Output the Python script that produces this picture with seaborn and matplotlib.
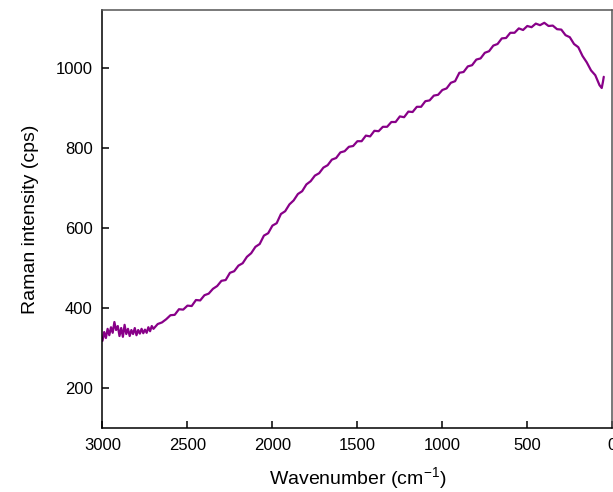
import numpy as np
import pandas as pd
import matplotlib
matplotlib.use("Agg")
import matplotlib.pyplot as plt
import seaborn as sns

wavenumber = [3000, 2990, 2980, 2970, 2960, 2950, 2940, 2930, 2920, 2910,
              2900, 2890, 2880, 2870, 2860, 2850, 2840, 2830, 2820, 2810,
              2800, 2790, 2780, 2770, 2760, 2750, 2740, 2730, 2720, 2710,
              2700, 2675, 2650, 2625, 2600, 2575, 2550, 2525, 2500, 2475,
              2450, 2425, 2400, 2375, 2350, 2325, 2300, 2275, 2250, 2225,
              2200, 2175, 2150, 2125, 2100, 2075, 2050, 2025, 2000, 1975,
              1950, 1925, 1900, 1875, 1850, 1825, 1800, 1775, 1750, 1725,
              1700, 1675, 1650, 1625, 1600, 1575, 1550, 1525, 1500, 1475,
              1450, 1425, 1400, 1375, 1350, 1325, 1300, 1275, 1250, 1225,
              1200, 1175, 1150, 1125, 1100, 1075, 1050, 1025, 1000, 975,
              950, 925, 900, 875, 850, 825, 800, 775, 750, 725,
              700, 675, 650, 625, 600, 575, 550, 525, 500, 475,
              450, 425, 400, 375, 350, 325, 300, 275, 250, 225,
              200, 175, 150, 125, 100, 75, 62, 55, 50]

intensity = [318, 340, 325, 348, 332, 352, 338, 365, 345, 355,
             330, 350, 328, 358, 335, 348, 330, 345, 335, 350,
             332, 345, 336, 348, 337, 346, 338, 352, 342, 355,
             348, 360, 364, 372, 382, 383, 397, 396, 406, 405,
             420, 419, 432, 436, 448, 455, 468, 470, 488, 492,
             506, 512, 528, 537, 553, 560, 581, 587, 606, 612,
             635, 642, 659, 669, 685, 692, 709, 717, 731, 737,
             751, 757, 771, 775, 789, 792, 803, 805, 817, 817,
             831, 829, 843, 842, 853, 853, 865, 865, 879, 877,
             891, 890, 903, 903, 917, 919, 931, 933, 945, 949,
             963, 967, 988, 990, 1004, 1007, 1021, 1024, 1038, 1042,
             1056, 1060, 1074, 1075, 1088, 1088, 1099, 1095, 1105, 1102,
             1111, 1107, 1113, 1105, 1106, 1097, 1096, 1082, 1077, 1060,
             1052, 1030, 1014, 994, 982, 957, 950, 965, 978]

df = pd.DataFrame({"wavenumber": wavenumber, "intensity": intensity})

sns.set_theme(style="ticks")
plt.rcParams['font.family'] = ['Liberation Sans', 'DejaVu Sans']
plt.rcParams['mathtext.fontset'] = 'custom'
plt.rcParams['mathtext.rm'] = 'Liberation Sans'
plt.rcParams['mathtext.it'] = 'Liberation Sans'
plt.rcParams['text.color'] = 'black'
plt.rcParams['axes.labelcolor'] = 'black'

fig = plt.figure(figsize=(6.13, 4.92), dpi=100)
ax = fig.add_axes([0.1672, 0.130, 0.8316, 0.8497])

sns.lineplot(data=df, x="wavenumber", y="intensity", ax=ax, color="#880088",
             linewidth=1.6, estimator=None, sort=False)

ax.set_xlim(3000, 0)
ax.set_ylim(100, 1145)
ax.set_xticks([3000, 2500, 2000, 1500, 1000, 500, 0])
ax.set_yticks([200, 400, 600, 800, 1000])
ax.tick_params(direction="in", length=5, width=1.1, labelsize=12, pad=7,
               colors="black", labelcolor="black")
ax.set_xlabel("Wavenumber (cm$^{-1}$)", fontsize=14, labelpad=9, color="black")
ax.set_ylabel("Raman intensity (cps)", fontsize=14, labelpad=12, color="black")

for s in ["left", "bottom"]:
    ax.spines[s].set_color("black")
    ax.spines[s].set_linewidth(1.1)
for s in ["top", "right"]:
    ax.spines[s].set_visible(True)
    ax.spines[s].set_color("#555555")
    ax.spines[s].set_linewidth(1.1)

fig.savefig("out.png", dpi=100)
